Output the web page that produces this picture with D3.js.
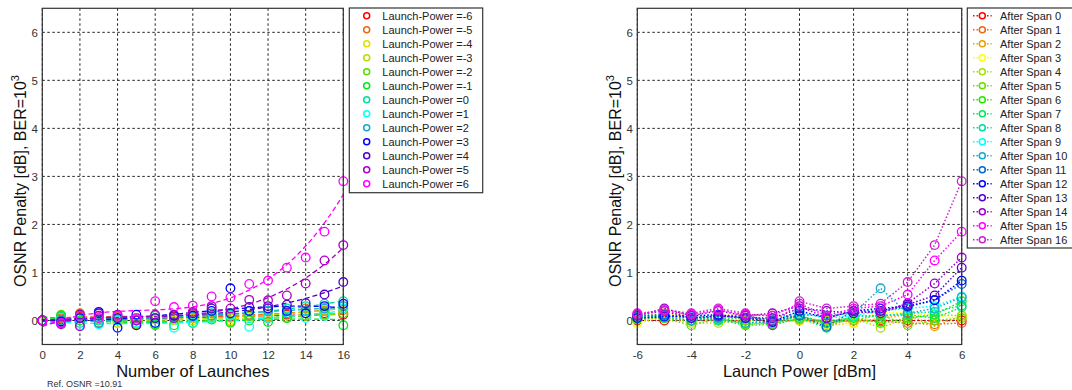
<!DOCTYPE html>
<html><head><meta charset="utf-8">
<script src="https://cdn.jsdelivr.net/npm/d3@7"></script>
<style>body{margin:0;background:#fff} svg{display:block;font-family:"Liberation Sans",Arial,sans-serif}</style>
</head><body><svg id="c" width="1072" height="390"></svg>
<script>
// ---- data ----
const spans = [0,1,2,3,4,5,6,7,8,9,10,11,12,13,14,15,16];
const powers = [-6,-5,-4,-3,-2,-1,0,1,2,3,4,5,6];
const xTicksLeft = [0,2,4,6,8,10,12,14,16];
const xTicksRight = [-6,-4,-2,0,2,4,6];
const yTicks = [0,1,2,3,4,5,6];
// OSNR penalty per launch power, indexed by span 0..16
const penPm6 = [0, 0.02, 0.08,-0.05, 0.02, 0.05, 0.03, 0.08, 0.05, 0.1, 0.08, 0.1, 0.05, 0.12, 0.1, 0.15, 0.12];
const penPm5 = [0, 0.05, 0.15, 0.1, 0.08, 0.05, 0.1, 0.05, 0.12, 0.08, 0.1, 0.12, 0.08, 0.2, 0.25, 0.2, 0.22];
const penPm4 = [0, 0.0, 0.1, 0.05,-0.05,-0.1, 0.05, 0.0, 0.05, 0.08, 0.0, 0.05, 0.1, 0.05, 0.1, 0.12, 0.15];
const penPm3 = [0, 0.1, 0.05, 0.0,-0.05, 0.05, 0.02, 0.05, 0.0, 0.1, 0.05, 0.08, 0.12, 0.1, 0.2, 0.22, 0.25];
const penPm2 = [0, 0.12, 0.05, 0.02, 0.0,-0.08,-0.1, 0.05,-0.05, 0.05,-0.05, 0.1, 0.05, 0.05, 0.1, 0.12, 0.15];
const penPm1 = [0, 0.1, 0.0, 0.05, 0.02,-0.05,-0.08,-0.1,-0.05, 0.02,-0.03, 0.0,-0.03, 0.05, 0.15, 0.1,-0.1];
const penP0  = [0, 0.08, 0.05, 0.0, 0.05, 0.02, 0.1, 0.05, 0.1, 0.15, 0.12, 0.1, 0.2, 0.25, 0.3, 0.35, 0.4];
const penP1  = [0,-0.05,-0.1,-0.08, 0.0,-0.05,-0.05,-0.15,-0.05, 0.05, 0.1,-0.13, 0.05, 0.2, 0.05, 0.1, 0.25];
const penP2  = [0, 0.0,-0.05,-0.05, 0.05, 0.0, 0.05, 0.1, 0.08, 0.1, 0.15, 0.2, 0.2, 0.15, 0.2, 0.25, 0.3];
const penP3  = [0,-0.02, 0.05, 0.18,-0.15, 0.12,-0.05, 0.1, 0.1, 0.2, 0.67, 0.2, 0.25, 0.2, 0.15, 0.3, 0.35];
const penP4  = [0,-0.05, 0.12, 0.15, 0.05,-0.1, 0.05, 0.12, 0.15, 0.25, 0.15, 0.28, 0.3, 0.33, 0.36, 0.54, 0.8];
const penP5  = [0,-0.08,-0.12, 0.1, 0.12, 0.0, 0.12, 0.05, 0.18, 0.3, 0.25, 0.43, 0.42, 0.52, 0.77, 1.25, 1.57];
const penP6  = [0,-0.05, 0.1, 0.05, 0.1, 0.05, 0.4, 0.28, 0.31, 0.5, 0.48, 0.76, 0.83, 1.1, 1.31, 1.85, 2.9];
const penaltyByPower = [penPm6,penPm5,penPm4,penPm3,penPm2,penPm1,penP0,penP1,penP2,penP3,penP4,penP5,penP6];
const powerColors = ["#ff0000","#e8681a","#e0e000","#b8dc00","#55dd00","#00e622","#00dd99","#00ffff","#14a8cc","#0000ff","#5000c8","#a800c8","#ff00ff"];
const spanColors = ["#ff0000","#e8681a","#e8a000","#ffff00","#a8e000","#66dd00","#22e800","#00e855","#00dda0","#00ffff","#14a8cc","#0066cc","#0000ff","#5500cc","#9900cc","#ff00ff","#cc22cc"];
const powerLabels = powers.map(p => "Launch-Power =" + p);
const spanLabels = spans.map(s => "After Span " + s);

// ---- helpers ----
function polyfit(xs, ys, deg){
  const n = deg+1, A = [], b = [];
  for(let i=0;i<n;i++){A.push(new Array(n).fill(0)); b.push(0);}
  xs.forEach((x,k)=>{for(let i=0;i<n;i++){b[i]+=ys[k]*Math.pow(x,i);for(let j=0;j<n;j++)A[i][j]+=Math.pow(x,i+j);}});
  for(let c=0;c<n;c++){
    let piv=c; for(let r=c+1;r<n;r++) if(Math.abs(A[r][c])>Math.abs(A[piv][c])) piv=r;
    [A[c],A[piv]]=[A[piv],A[c]]; [b[c],b[piv]]=[b[piv],b[c]];
    for(let r=0;r<n;r++){ if(r===c) continue; const f=A[r][c]/A[c][c]; for(let j=c;j<n;j++) A[r][j]-=f*A[c][j]; b[r]-=f*b[c]; }
  }
  const coef = b.map((v,i)=>v/A[i][i]);
  return x => coef.reduce((s,c,i)=>s+c*Math.pow(x,i),0);
}

const svg = d3.select("#c");
const yTop=8.3, yBot=344.5;
const y = d3.scaleLinear().domain([-0.5,6.5]).range([yBot,yTop]);
const fmt = d => String(d);

function frame(x, xt, x0, x1){
  const g = svg.append("g");
  g.append("rect").attr("x",x0).attr("y",yTop).attr("width",x1-x0).attr("height",yBot-yTop).attr("fill","#fff");
  g.selectAll(".gx").data(xt).enter().append("line")
    .attr("x1",d=>x(d)).attr("x2",d=>x(d)).attr("y1",yTop).attr("y2",yBot)
    .attr("stroke","#222").attr("stroke-width",1).attr("stroke-dasharray","2.5,2.5");
  g.selectAll(".gy").data(yTicks).enter().append("line")
    .attr("y1",d=>y(d)).attr("y2",d=>y(d)).attr("x1",x0).attr("x2",x1)
    .attr("stroke","#222").attr("stroke-width",1).attr("stroke-dasharray","2.5,2.5");
  const ax = svg.append("g").attr("transform",`translate(0,${yBot})`)
    .call(d3.axisBottom(x).tickValues(xt).tickFormat(fmt).tickSize(0).tickPadding(6));
  const ay = svg.append("g").attr("transform",`translate(${x0},0)`)
    .call(d3.axisLeft(y).tickValues(yTicks).tickFormat(fmt).tickSize(0).tickPadding(4.5));
  [ax,ay].forEach(a=>{a.select(".domain").remove(); a.selectAll("text").attr("font-size",11.5).attr("fill","#333").attr("font-family","Liberation Sans, Arial, sans-serif");});
}
function box(x0,x1){
  svg.append("rect").attr("x",x0).attr("y",yTop).attr("width",x1-x0).attr("height",yBot-yTop)
    .attr("fill","none").attr("stroke","#333").attr("stroke-width",1.2);
}
function ylabel(cx){
  const t = svg.append("text").attr("transform",`translate(${cx},287) rotate(-90)`)
    .attr("font-size",16).attr("fill","#111");
  t.append("tspan").text("OSNR Penalty [dB], BER=10");
  t.append("tspan").text("3").attr("font-size",11).attr("dy",-7);
}

// ---- left chart ----
const LX0=42.3, LX1=343.3;
const xL = d3.scaleLinear().domain([0,16]).range([LX0,LX1]);
frame(xL, xTicksLeft, LX0, LX1);
const fitXs = d3.range(0,16.001,0.2);
penaltyByPower.forEach((vals,i)=>{
  const f = polyfit(spans, vals, 3);
  svg.append("path").datum(fitXs)
    .attr("d", d3.line().x(d=>xL(d)).y(d=>y(f(d))))
    .attr("fill","none").attr("stroke",powerColors[i]).attr("stroke-width",1.3).attr("stroke-dasharray","5,3");
});
penaltyByPower.forEach((vals,i)=>{
  svg.append("g").selectAll("circle").data(spans).enter().append("circle")
    .attr("cx",d=>xL(d)).attr("cy",d=>y(vals[d])).attr("r",4.3)
    .attr("fill","none").attr("stroke",powerColors[i]).attr("stroke-width",1.3);
});
box(LX0,LX1);
ylabel(26);
svg.append("text").attr("x",(LX0+LX1)/2).attr("y",377).attr("text-anchor","middle")
  .attr("font-size",16.5).attr("fill","#111").text("Number of Launches");
svg.append("text").attr("x",47).attr("y",387).attr("font-size",9).attr("fill","#333").text("Ref. OSNR =10.91");

// left legend
const lg = svg.append("g");
lg.append("rect").attr("x",349.3).attr("y",8).attr("width",133.4).attr("height",184.7)
  .attr("fill","#fff").attr("stroke","#333").attr("stroke-width",1.2);
powerLabels.forEach((lab,i)=>{
  const yy = 15.7+14*i;
  lg.append("circle").attr("cx",366.7).attr("cy",yy).attr("r",3).attr("fill","none")
    .attr("stroke",powerColors[i]).attr("stroke-width",1.5);
  lg.append("text").attr("x",382.3).attr("y",yy+4).attr("font-size",11).attr("fill","#222").text(lab);
});

// ---- right chart ----
const RX0=637.3, RX1=961.7;
const xR = d3.scaleLinear().domain([-6,6]).range([RX0,RX1]);
frame(xR, xTicksRight, RX0, RX1);
spans.forEach(s=>{
  const pts = powers.map((p,i)=>({p, v: penaltyByPower[i][s]}));
  svg.append("path").datum(pts)
    .attr("d", d3.line().x(d=>xR(d.p)).y(d=>y(d.v)))
    .attr("fill","none").attr("stroke",spanColors[s]).attr("stroke-width",1.5).attr("stroke-dasharray","1.5,2");
  svg.append("g").selectAll("circle").data(pts).enter().append("circle")
    .attr("cx",d=>xR(d.p)).attr("cy",d=>y(d.v)).attr("r",4.3)
    .attr("fill","none").attr("stroke",spanColors[s]).attr("stroke-width",1.3);
});
box(RX0,RX1);
ylabel(620.5);
svg.append("text").attr("x",(RX0+RX1)/2).attr("y",377).attr("text-anchor","middle")
  .attr("font-size",16.5).attr("fill","#111").text("Launch Power [dBm]");

// right legend
const rg = svg.append("g");
rg.append("rect").attr("x",967.3).attr("y",8).attr("width",120).attr("height",240)
  .attr("fill","#fff").attr("stroke","#333").attr("stroke-width",1.2);
spanLabels.forEach((lab,i)=>{
  const yy = 15.7+14*i;
  rg.append("line").attr("x1",973).attr("x2",991.7).attr("y1",yy).attr("y2",yy)
    .attr("stroke",spanColors[i]).attr("stroke-width",1.5).attr("stroke-dasharray","1.5,2");
  rg.append("circle").attr("cx",982.3).attr("cy",yy).attr("r",3).attr("fill","#fff")
    .attr("stroke",spanColors[i]).attr("stroke-width",1.5);
  rg.append("text").attr("x",1000).attr("y",yy+4).attr("font-size",11).attr("fill","#222").text(lab);
});
</script></body></html>
